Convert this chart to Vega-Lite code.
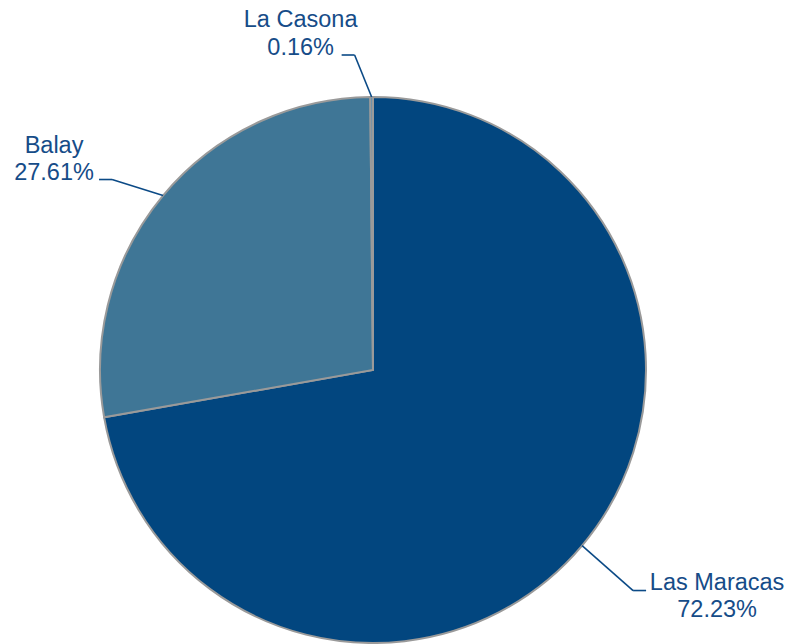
{
  "$schema": "https://vega.github.io/schema/vega-lite/v6.json",
  "autosize": "none",
  "padding": {"left": 0, "top": 96, "right": 45, "bottom": 0},
  "width": 746,
  "height": 548,
  "background": "white",
  "config": {"view": {"stroke": null}},
  "data": {
    "values": [
      {"name": "Las Maracas", "value": 72.23},
      {"name": "Balay", "value": 27.61},
      {"name": "La Casona", "value": 0.16}
    ]
  },
  "transform": [
    {"stack": "value", "groupby": [], "sort": [{"field": "value", "order": "descending"}], "as": ["v0", "v1"]},
    {"calculate": "PI*(datum.v0+datum.v1)/100", "as": "ang"},
    {"calculate": "273*sin(datum.ang)", "as": "x0"},
    {"calculate": "273*cos(datum.ang)", "as": "y0"},
    {"calculate": "[datum.name, format(datum.value, '.2f') + '%']", "as": "label"}
  ],
  "layer": [
    {
      "mark": {"type": "arc", "radius": 273, "stroke": "#9a9a9a", "strokeWidth": 2},
      "encoding": {
        "theta": {"field": "v0", "type": "quantitative", "scale": {"domain": [0, 100]}},
        "theta2": {"field": "v1"},
        "color": {
          "field": "name", "type": "nominal", "legend": null,
          "scale": {"domain": ["Las Maracas", "Balay", "La Casona"], "range": ["#02467F", "#3F7696", "#5B8DB0"]}
        }
      }
    },
    {
      "transform": [
        {"filter": "datum.name === 'Las Maracas'"},
        {"calculate": "datum.x0 + 51", "as": "x1"},
        {"calculate": "datum.y0 - 45", "as": "y1"},
        {"calculate": "datum.x1 + 13", "as": "x2"}
      ],
      "layer": [
        {
          "mark": {"type": "rule", "color": "#0B4A86", "strokeWidth": 1.6},
          "encoding": {
            "x": {"field": "x0", "type": "quantitative", "scale": {"domain": [-373, 373], "nice": false, "zero": false}, "axis": null},
            "y": {"field": "y0", "type": "quantitative", "scale": {"domain": [-274, 274], "nice": false, "zero": false}, "axis": null},
            "x2": {"field": "x1"},
            "y2": {"field": "y1"}
          }
        },
        {
          "mark": {"type": "rule", "color": "#0B4A86", "strokeWidth": 1.6},
          "encoding": {
            "x": {"field": "x1", "type": "quantitative", "axis": null},
            "x2": {"field": "x2"},
            "y": {"field": "y1", "type": "quantitative", "axis": null}
          }
        },
        {
          "mark": {"type": "text", "align": "center", "baseline": "middle", "font": "Liberation Sans", "fontSize": 23.5, "lineHeight": 27.5, "color": "#164C88", "dx": 71, "dy": -8},
          "encoding": {
            "x": {"field": "x2", "type": "quantitative", "axis": null},
            "y": {"field": "y1", "type": "quantitative", "axis": null},
            "text": {"field": "label"}
          }
        }
      ]
    },
    {
      "transform": [
        {"filter": "datum.name === 'Balay'"},
        {"calculate": "datum.x0 - 51", "as": "x1"},
        {"calculate": "datum.y0 + 16", "as": "y1"},
        {"calculate": "datum.x1 - 13", "as": "x2"}
      ],
      "layer": [
        {
          "mark": {"type": "rule", "color": "#0B4A86", "strokeWidth": 1.6},
          "encoding": {
            "x": {"field": "x0", "type": "quantitative", "axis": null},
            "y": {"field": "y0", "type": "quantitative", "axis": null},
            "x2": {"field": "x1"},
            "y2": {"field": "y1"}
          }
        },
        {
          "mark": {"type": "rule", "color": "#0B4A86", "strokeWidth": 1.6},
          "encoding": {
            "x": {"field": "x1", "type": "quantitative", "axis": null},
            "x2": {"field": "x2"},
            "y": {"field": "y1", "type": "quantitative", "axis": null}
          }
        },
        {
          "mark": {"type": "text", "align": "center", "baseline": "middle", "font": "Liberation Sans", "fontSize": 23.5, "lineHeight": 27.5, "color": "#164C88", "dx": -45, "dy": -34},
          "encoding": {
            "x": {"field": "x2", "type": "quantitative", "axis": null},
            "y": {"field": "y1", "type": "quantitative", "axis": null},
            "text": {"field": "label"}
          }
        }
      ]
    },
    {
      "transform": [
        {"filter": "datum.name === 'La Casona'"},
        {"calculate": "datum.x0 - 17", "as": "x1"},
        {"calculate": "datum.y0 + 42", "as": "y1"},
        {"calculate": "datum.x1 - 13", "as": "x2"}
      ],
      "layer": [
        {
          "mark": {"type": "rule", "color": "#0B4A86", "strokeWidth": 1.6},
          "encoding": {
            "x": {"field": "x0", "type": "quantitative", "axis": null},
            "y": {"field": "y0", "type": "quantitative", "axis": null},
            "x2": {"field": "x1"},
            "y2": {"field": "y1"}
          }
        },
        {
          "mark": {"type": "rule", "color": "#0B4A86", "strokeWidth": 1.6},
          "encoding": {
            "x": {"field": "x1", "type": "quantitative", "axis": null},
            "x2": {"field": "x2"},
            "y": {"field": "y1", "type": "quantitative", "axis": null}
          }
        },
        {
          "mark": {"type": "text", "align": "center", "baseline": "middle", "font": "Liberation Sans", "fontSize": 23.5, "lineHeight": 27.5, "color": "#164C88", "dx": -41, "dy": -35},
          "encoding": {
            "x": {"field": "x2", "type": "quantitative", "axis": null},
            "y": {"field": "y1", "type": "quantitative", "axis": null},
            "text": {"field": "label"}
          }
        }
      ]
    }
  ]
}
